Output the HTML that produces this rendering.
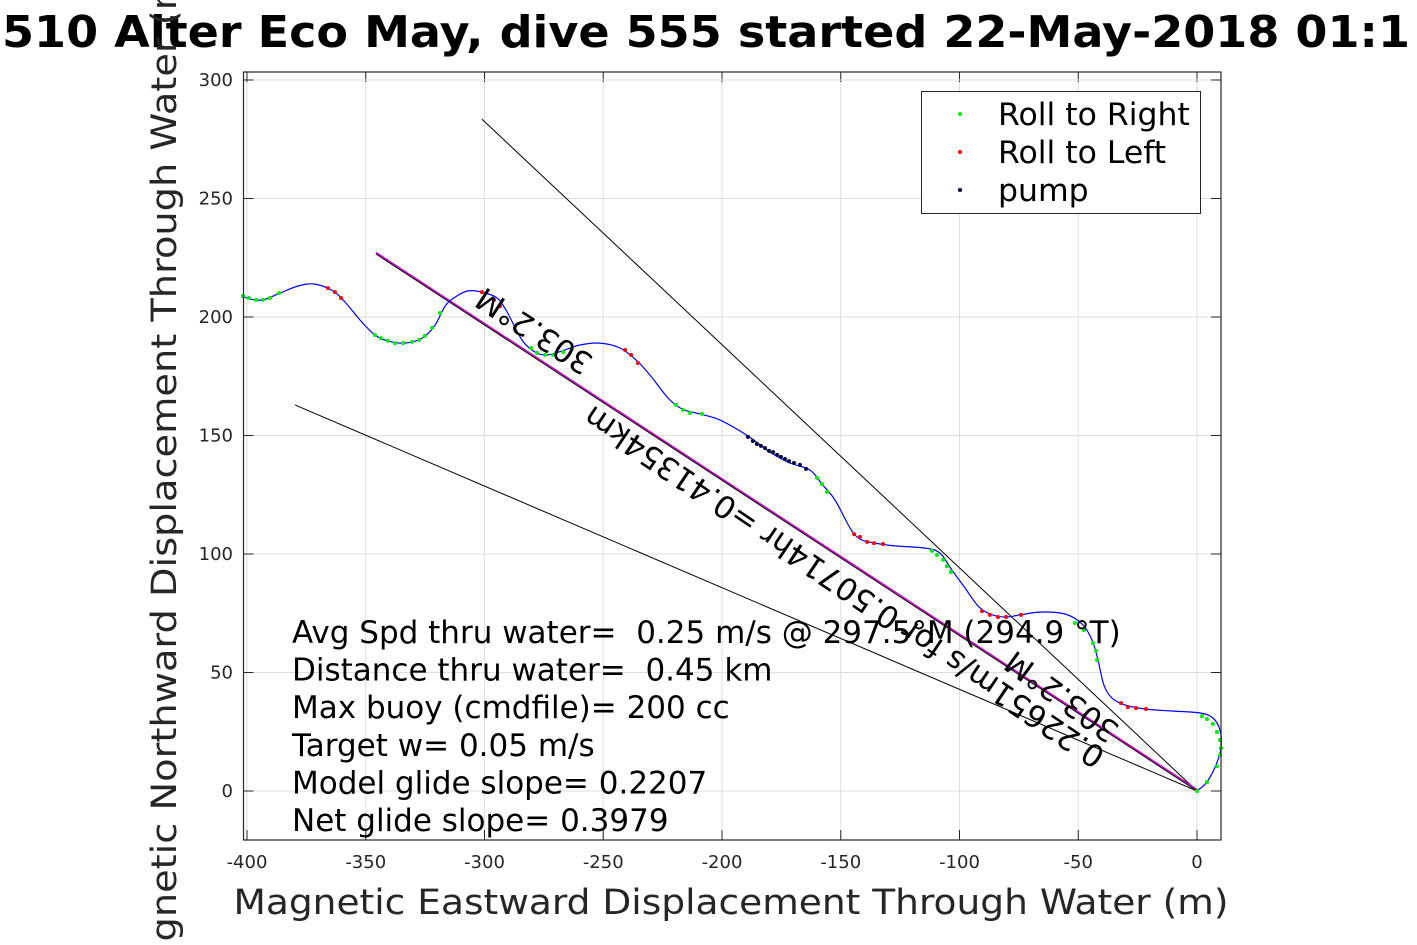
<!DOCTYPE html>
<html><head><meta charset="utf-8"><style>
html,body{margin:0;padding:0;background:#fff;overflow:hidden}
svg{display:block;font-family:"DejaVu Sans","Liberation Sans",sans-serif}
</style></head><body>
<svg id="chart" width="1417" height="945" viewBox="0 0 1417 945" xmlns="http://www.w3.org/2000/svg">
<rect x="0" y="0" width="1417" height="945" fill="#fff"/>
<g id="plot"></g>
</svg>
<script>
const xTicks=[-400,-350,-300,-250,-200,-150,-100,-50,0];
const yTicks=[0,50,100,150,200,250,300];
const trackX=[0,4.2,8.0,10.1,9.7,6.7,1.3,-11.4,-21.9,-30.3,-35.8,-39.2,-41.7,-44.2,-48.4,-55.6,-66.1,-74.5,-80.8,-87.2,-92.2,-97.7,-103.2,-108.2,-114.5,-127.2,-135.6,-141.9,-146.1,-152.4,-157.9,-162.9,-171.4,-179.8,-189.1,-200.8,-209.3,-216.8,-222.7,-230.3,-236.2,-242.9,-251.4,-259.8,-266.1,-273.3,-278.7,-284.2,-290.5,-294.7,-301.1,-307.0,-312.4,-316.6,-320.8,-326.3,-333.5,-340.6,-346.1,-352.4,-358.7,-363.8,-371.4,-378.5,-386.1,-393.3,-398.7,-402.1];
const trackY=[0,3.8,11.0,18.1,25.7,30.8,32.9,33.8,34.6,36.3,39.2,44.7,55.3,63.7,70.5,74.7,75.5,74.3,73.4,74.7,78.1,85.7,93.2,100.4,102.5,103.4,104.6,106.3,111.0,122.8,129.5,135.4,138.4,143.0,149.8,156.5,159.1,161.2,165.8,175.5,181.9,186.9,189.0,188.2,186.1,184.0,185.2,190.3,202.1,208.0,210.5,211.0,208.4,204.6,196.6,191.1,189.0,189.9,192.4,198.7,206.3,211.0,213.9,213.1,210.1,207.2,207.6,208.9];
const rightX=[2.1,4.2,6.7,8.4,9.7,10.1,9.7,8.4,4.2,0,-51.4,-47.6,-43.8,-42.5,-42.1,-111.6,-109.5,-106.9,-105.3,-103.6,-160,-157.9,-155.8,-219.4,-216.4,-213.5,-208.4,-280.4,-277.9,-274.5,-271.2,-266.9,-263.2,-318.7,-322.1,-325.1,-327.6,-330.5,-334.3,-337.7,-340.6,-343.6,-346.1,-401.7,-399.2,-396.2,-393.3,-390.3,-386.5];
const rightY=[31.6,30.4,28.3,24.9,21.5,18.1,15.2,10.5,3.8,0,70.9,67.9,62.4,59.1,55.3,101.3,99.6,97.5,94.9,92.4,132.1,129.5,126.2,162.9,160.8,159.5,159.1,186.9,184.8,184.0,184.0,185.2,186.5,201.7,195.4,192.0,190.3,189.5,189.0,189.0,189.9,191.1,192.4,208.9,208.0,207.2,207.2,208.0,210.1];
const leftX=[-32,-29.1,-25.7,-21.5,-90.5,-87.2,-83.8,-80.4,-74.1,-144.4,-141.9,-138.9,-136.0,-132.2,-240.8,-238.3,-235.4,-301.1,-296.0,-293.5,-365.9,-363.0,-360.4];
const leftY=[37.1,35.4,35.0,34.6,75.9,74.3,73.4,73.4,74.3,108.4,107.2,105.1,104.6,104.2,186.1,184.0,180.6,210.5,207.2,204.6,212.2,210.5,208.0];
const pumpX=[-189.1,-187.0,-185.3,-183.6,-181.9,-180.2,-178.5,-176.8,-175.2,-173.5,-171.8,-169.7,-167.2,-164.6];
const pumpY=[149.4,147.7,146.4,145.6,144.7,143.5,143.0,141.8,141.0,140.1,139.2,138.4,137.6,135.9];
const lineEndX=[-301.1,-345.7,-379.8];
const lineEndY=[283.5,226.6,162.9];

const L=243.5,R=1221,T=72,B=840;
const sx=v=>1197+v*2.375;
const sy=v=>791-v*2.37;
const NS="http://www.w3.org/2000/svg";
const g=document.getElementById('plot');
function mk(tag,attrs,parent){const e=document.createElementNS(NS,tag);for(const k in attrs)e.setAttribute(k,attrs[k]);(parent||g).appendChild(e);return e;}

const grid=mk('g',{});


xTicks.forEach(t=>{
  const l=mk('line',{x1:sx(t),x2:sx(t),y1:T,y2:B,stroke:'#dedede','stroke-width':1},grid);
  
  
  const a=mk('line',{x1:sx(t),x2:sx(t),y1:B,y2:B-10,stroke:'#262626','stroke-width':1},grid);
  
  
  const b=mk('line',{x1:sx(t),x2:sx(t),y1:T,y2:T+10,stroke:'#262626','stroke-width':1},grid);
  
  
  const tx=mk('text',{x:sx(t),y:868,'text-anchor':'middle','font-size':18,fill:'#262626'},grid);
  tx.textContent=String(t);
  
  
});
yTicks.forEach(t=>{
  const l=mk('line',{x1:L,x2:R,y1:sy(t),y2:sy(t),stroke:'#dedede','stroke-width':1},grid);
  
  
  const a=mk('line',{x1:L,x2:L+10,y1:sy(t),y2:sy(t),stroke:'#262626','stroke-width':1},grid);
  
  
  const b=mk('line',{x1:R,x2:R-10,y1:sy(t),y2:sy(t),stroke:'#262626','stroke-width':1},grid);
  
  
  const tx=mk('text',{x:233,y:sy(t)+6,'text-anchor':'end','font-size':18,fill:'#262626'},grid);
  tx.textContent=String(t);
  
  
});

const lineColors=['#000','#000','#000'];
lineEndX.forEach((x,i)=>{
  const l=mk('line',{x1:sx(0),y1:sy(0),x2:sx(x),y2:sy(lineEndY[i]),stroke:lineColors[i],'stroke-width':1});
  
  
});
const mg=mk('line',{x1:sx(0),y1:sy(0)-1.5,x2:sx(lineEndX[1]),y2:sy(lineEndY[1])-1.5,stroke:'#c000c0','stroke-width':1.5});



const P=trackX.map((x,i)=>[sx(x),sy(trackY[i])]);
let d='M'+P[0][0]+','+P[0][1];
for(let i=0;i<P.length-1;i++){
  const p0=P[Math.max(0,i-1)],p1=P[i],p2=P[i+1],p3=P[Math.min(P.length-1,i+2)];
  const c1=[p1[0]+(p2[0]-p0[0])/6,p1[1]+(p2[1]-p0[1])/6];
  const c2=[p2[0]-(p3[0]-p1[0])/6,p2[1]-(p3[1]-p1[1])/6];
  d+=' C'+c1[0].toFixed(1)+','+c1[1].toFixed(1)+' '+c2[0].toFixed(1)+','+c2[1].toFixed(1)+' '+p2[0].toFixed(1)+','+p2[1].toFixed(1);
}
const tr=mk('path',{d:d,fill:'none',stroke:'#0000ff','stroke-width':1.2});



function dots(xs,ys,col,name){
  xs.forEach((x,i)=>{
    const c=mk('circle',{cx:sx(x),cy:sy(ys[i]),r:2,fill:col});
    
    
  });
}
dots(rightX,rightY,'#00ee00','roll-right-point');
dots(leftX,leftY,'#ff0000','roll-left-point');
dots(pumpX,pumpY,'#000040','pump-point');

function rtext(txt,x,y,ang,name){
  const t=mk('text',{x:x,y:y,'text-anchor':'middle','font-size':31,fill:'#000',transform:'rotate('+ang+' '+x+' '+y+')'});
  t.textContent=txt;
  
  
}
rtext('303.2°M',540,322,213,'heading-label-top');
rtext('0.22651m/s for 0.50714hr =0.41354km',850,578,214,'speed-label');
rtext('303.2°M',1068,688,216,'heading-label-bottom');

const stats=['Avg Spd thru water=  0.25 m/s @ 297.5°M (294.9 °T)','Distance thru water=  0.45 km','Max buoy (cmdfile)= 200 cc','Target w= 0.05 m/s','Model glide slope= 0.2207','Net glide slope= 0.3979'];
stats.forEach((s,i)=>{
  const t=mk('text',{x:292,y:643+i*37.6,'font-size':31,fill:'#000',style:'white-space:pre'});
  t.textContent=s;
  
  
});

const bx=mk('rect',{x:L,y:T,width:R-L,height:B-T,fill:'none',stroke:'#262626','stroke-width':1.2});



const lg=mk('g',{});


const lr=mk('rect',{x:921.5,y:91.5,width:279,height:122,fill:'#fff',stroke:'#262626','stroke-width':1},lg);


const legNames=['Roll to Right','Roll to Left','pump'];
const legCols=['#00ee00','#ff0000','#000040'];
legNames.forEach((n,i)=>{
  const c=mk('circle',{cx:960,cy:114+i*38,r:2,fill:legCols[i]},lg);
  
  
  const t=mk('text',{x:998,y:125+i*38,'font-size':31.5,fill:'#000'},lg);
  t.textContent=n;
  
  
});

const xl=mk('text',{x:731,y:914,'text-anchor':'middle','font-size':35,fill:'#262626',textLength:995,lengthAdjust:'spacingAndGlyphs'});
xl.textContent='Magnetic Eastward Displacement Through Water (m)';



const ti=mk('text',{x:2,y:47,'font-size':44,'font-weight':'bold',fill:'#000',textLength:1408,lengthAdjust:'spacingAndGlyphs'});
ti.textContent='510 Alter Eco May, dive 555 started 22-May-2018 01:1';


const tg=mk('text',{x:2,y:47,'text-anchor':'end','font-size':44,'font-weight':'bold',fill:'#000'});
tg.textContent='SG6';



const yl=mk('text',{x:0,y:0,'text-anchor':'middle','font-size':35,fill:'#262626',transform:'translate(176,478) rotate(-90)',textLength:1040,lengthAdjust:'spacingAndGlyphs'});
yl.textContent='Magnetic Northward Displacement Through Water (m)';


</script>
</body></html>
